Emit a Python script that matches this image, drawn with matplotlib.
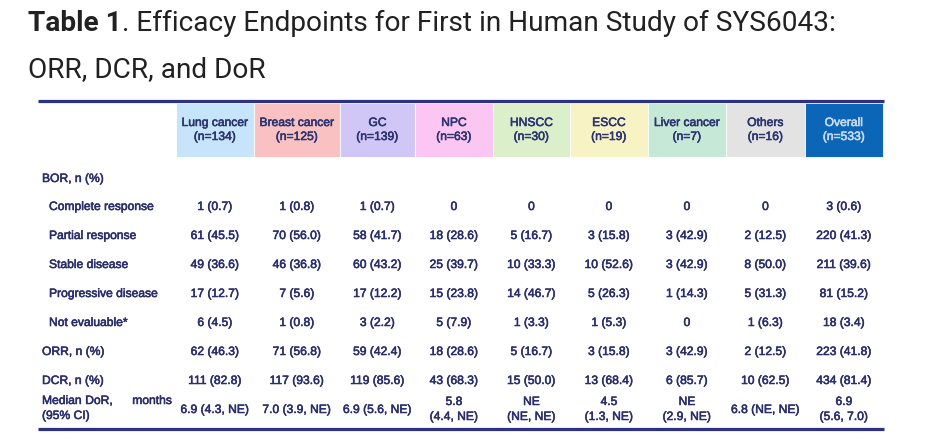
import matplotlib
matplotlib.use("Agg")
import matplotlib.pyplot as plt
from matplotlib.patches import Rectangle
import matplotlib.patheffects as pe

# ---------------- data ----------------
groups = ["Lung cancer", "Breast cancer", "GC", "NPC", "HNSCC", "ESCC",
          "Liver cancer", "Others", "Overall"]
n_patients = [134, 125, 139, 63, 30, 19, 7, 16, 533]

complete_n = [1, 1, 1, 0, 0, 0, 0, 0, 3]
complete_p = [0.7, 0.8, 0.7, 0, 0, 0, 0, 0, 0.6]
partial_n = [61, 70, 58, 18, 5, 3, 3, 2, 220]
partial_p = [45.5, 56.0, 41.7, 28.6, 16.7, 15.8, 42.9, 12.5, 41.3]
stable_n = [49, 46, 60, 25, 10, 10, 3, 8, 211]
stable_p = [36.6, 36.8, 43.2, 39.7, 33.3, 52.6, 42.9, 50.0, 39.6]
progressive_n = [17, 7, 17, 15, 14, 5, 1, 5, 81]
progressive_p = [12.7, 5.6, 12.2, 23.8, 46.7, 26.3, 14.3, 31.3, 15.2]
not_eval_n = [6, 1, 3, 5, 1, 1, 0, 1, 18]
not_eval_p = [4.5, 0.8, 2.2, 7.9, 3.3, 5.3, 0, 6.3, 3.4]
orr_n = [62, 71, 59, 18, 5, 3, 3, 2, 223]
orr_p = [46.3, 56.8, 42.4, 28.6, 16.7, 15.8, 42.9, 12.5, 41.8]
dcr_n = [111, 117, 119, 43, 15, 13, 6, 10, 434]
dcr_p = [82.8, 93.6, 85.6, 68.3, 50.0, 68.4, 85.7, 62.5, 81.4]
dor_median = ["6.9", "7.0", "6.9", "5.8", "NE", "4.5", "NE", "6.8", "6.9"]
dor_ci = ["(4.3, NE)", "(3.9, NE)", "(5.6, NE)", "(4.4, NE)", "(NE, NE)",
          "(1.3, NE)", "(2.9, NE)", "(NE, NE)", "(5.6, 7.0)"]

row_labels = ["Complete response", "Partial response", "Stable disease",
              "Progressive disease", "Not evaluable*"]

# ---------------- style / layout ----------------
header_colors = ["#c6e4fa", "#f9c1c1", "#d0c7f7", "#fbc6f1", "#daefca",
                 "#f8f3c4", "#c6e8d7", "#e3e3e3", "#0b66b8"]
header_text_colors = ["#2b3370"] * 8 + ["#c9dbf2"]
col_edges = [176, 254, 340, 415, 493, 570, 648, 726, 805, 883]
dor_stacked = [False, False, False, True, True, True, True, False, True]

W, H = 942, 445
fig = plt.figure(figsize=(W / 100, H / 100), dpi=100)
ax = fig.add_axes([0, 0, 1, 1])
ax.set_xlim(0, W)
ax.set_ylim(H, 0)
ax.axis("off")

txt = "#2a2e6a"


def body(color=txt):
    return dict(family=["Liberation Sans", "DejaVu Sans"], fontsize=8.7,
                color=color,
                path_effects=[pe.withStroke(linewidth=0.4, foreground=color)])


title_font = dict(fontsize=20.2, family=["Roboto", "DejaVu Sans"], color="#212121")

# title
t1 = ax.text(28, 31, "Table 1", fontweight="bold", va="baseline", **title_font)
ax.annotate(". Efficacy Endpoints for First in Human Study of SYS6043:",
            xy=(1, 0), xycoords=t1, va="bottom", ha="left", **title_font)
ax.text(28, 77, "ORR, DCR, and DoR", va="baseline", **title_font)

# rules
ax.plot([38, 884], [101, 101], color="#2e3080", lw=2.3, solid_capstyle="butt")
ax.plot([38, 884], [429, 429], color="#2e3080", lw=2.3, solid_capstyle="butt")

# header cells
centers = []
for i, g in enumerate(groups):
    x0, x1 = col_edges[i], col_edges[i + 1]
    cx = (x0 + x1) / 2
    centers.append(cx)
    ax.add_patch(Rectangle((x0, 103), x1 - x0, 54, facecolor=header_colors[i],
                           edgecolor="white", lw=0.6))
    ax.text(cx, 123, g, ha="center", va="center", **body(header_text_colors[i]))
    ax.text(cx, 137, f"(n={n_patients[i]})", ha="center", va="center",
            **body(header_text_colors[i]))


def fmt(n, p):
    return "0" if n == 0 else f"{n} ({p:.1f})"


# row labels
ax.text(42, 179, "BOR, n (%)", ha="left", va="center", **body())
sub_rows = [(complete_n, complete_p), (partial_n, partial_p),
            (stable_n, stable_p), (progressive_n, progressive_p),
            (not_eval_n, not_eval_p)]
sub_y = [207, 236, 265, 294, 323]
for lab, (ns, ps), y in zip(row_labels, sub_rows, sub_y):
    ax.text(49, y, lab, ha="left", va="center", **body())
    for cx, n, p in zip(centers, ns, ps):
        ax.text(cx, y, fmt(n, p), ha="center", va="center", **body())

for lab, ns, ps, y in [("ORR, n (%)", orr_n, orr_p, 352),
                       ("DCR, n (%)", dcr_n, dcr_p, 381)]:
    ax.text(42, y, lab, ha="left", va="center", **body())
    for cx, n, p in zip(centers, ns, ps):
        ax.text(cx, y, fmt(n, p), ha="center", va="center", **body())

# median DoR label (justified)
ax.text(42, 401, "Median", ha="left", va="center", **body())
ax.text(99, 401, "DoR,", ha="center", va="center", **body())
ax.text(172, 401, "months", ha="right", va="center", **body())
ax.text(42, 416, "(95% CI)", ha="left", va="center", **body())
for cx, m, ci, st in zip(centers, dor_median, dor_ci, dor_stacked):
    if st:
        ax.text(cx, 402, m, ha="center", va="center", **body())
        ax.text(cx, 417, ci, ha="center", va="center", **body())
    else:
        ax.text(cx, 410, f"{m} {ci}", ha="center", va="center", **body())

fig.savefig("out.png", dpi=100)
